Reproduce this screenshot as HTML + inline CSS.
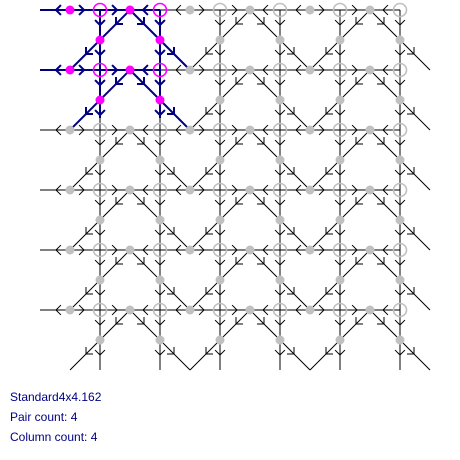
<!DOCTYPE html>
<html><head><meta charset="utf-8"><style>
body{margin:0;background:#fff;width:460px;height:460px;overflow:hidden;font-family:"Liberation Sans",sans-serif}
svg{position:absolute;left:0;top:0}
.t{position:absolute;left:10px;font-size:12px;color:#000080;line-height:14px}
</style></head><body>
<svg id="c" width="460" height="380"></svg>
<div class="t" style="top:390px">Standard4x4.162</div>
<div class="t" style="top:410px">Pair count: 4</div>
<div class="t" style="top:430px">Column count: 4</div>
<script>
const rowYs=[10,70,130,190,250,310];
const colXs=[100,160,220,280,340,400];
const dotXs=[70,130,190,250,310,370];
const peakXs=[130,250,370];
const NS='http://www.w3.org/2000/svg';
const svg=document.getElementById('c');
const BLUE='#000080';
function ln(x1,y1,x2,y2,col,w,name){const l=document.createElementNS(NS,'line');
l.setAttribute('x1',x1);l.setAttribute('y1',y1);l.setAttribute('x2',x2);l.setAttribute('y2',y2);
l.setAttribute('stroke',col);l.setAttribute('stroke-width',w);


svg.appendChild(l);}
function arrow(x,y,dx,dy,col,w){const s=7;
const a=Math.atan2(dy,dx);
for(const o of [Math.PI*0.75,-Math.PI*0.75]){ln(x,y,x+s*Math.cos(a+o),y+s*Math.sin(a+o),col,w,'arrow-head');}}
function isBlueV(x,y){return (x===100||x===160)&&y<120;}
rowYs.forEach(y=>{
  ln(40,y,400,y,'#000',1,'horizontal-thread');
  if(y===10||y===70) ln(40,y,160,y,BLUE,2,'highlight-thread');
  dotXs.forEach(x=>{
    const peak=peakXs.includes(x);
    const bl=(y===10||y===70)&&x<160;
    const c=bl?BLUE:'#000',w=bl?2:1;
    if(peak){arrow(x-13,y,1,0,c,w);arrow(x+13,y,-1,0,c,w);}
    else{arrow(x-14,y,-1,0,c,w); if(x+13<400)arrow(x+14,y,1,0,c,w);}
  });
});
colXs.forEach(x=>{
  ln(x,10,x,370,'#000',1,'vertical-thread');
  if(x===100||x===160) ln(x,10,x,118,BLUE,2,'highlight-thread');
  for(let y=10;y<370;y+=30){const b=isBlueV(x,y+12);arrow(x,y+15,0,1,b?BLUE:'#000',b?2:1);}
});
rowYs.forEach(y=>{
  peakXs.forEach(px=>{
    [-1,1].forEach(d=>{
      const blue=px===130&&(y===10||y===70);
      const c=blue?BLUE:'#000',w=blue?2:1;
      ln(px,y,px+60*d,y+60,c,w,'diagonal-thread');
      arrow(px+14*d,y+14,d,1,c,w);
      arrow(px+44*d,y+44,d,1,c,w);
    });
  });
});
function circ(x,y,r,fill,stroke,sw,name){const c=document.createElementNS(NS,'circle');
c.setAttribute('cx',x);c.setAttribute('cy',y);c.setAttribute('r',r);c.setAttribute('fill',fill);
if(stroke){c.setAttribute('stroke',stroke);c.setAttribute('stroke-width',sw);}


svg.appendChild(c);}
const MAG='#ff00ff',GR='#c0c0c0';
rowYs.forEach(y=>{
  dotXs.forEach(x=>{const m=(y===10||y===70)&&x<=130;circ(x,y,4.5,m?MAG:GR,null,0,'stitch-dot');});
  colXs.forEach(x=>{const m=(y===10||y===70)&&x<=160;circ(x,y,6.5,'none',m?MAG:GR,1.6,'stitch-circle');});
  colXs.forEach(x=>{const m=(y===10||y===70)&&x<=160;circ(x,y+30,4.5,m?MAG:GR,null,0,'stitch-dot');});
});
</script>
</body></html>
